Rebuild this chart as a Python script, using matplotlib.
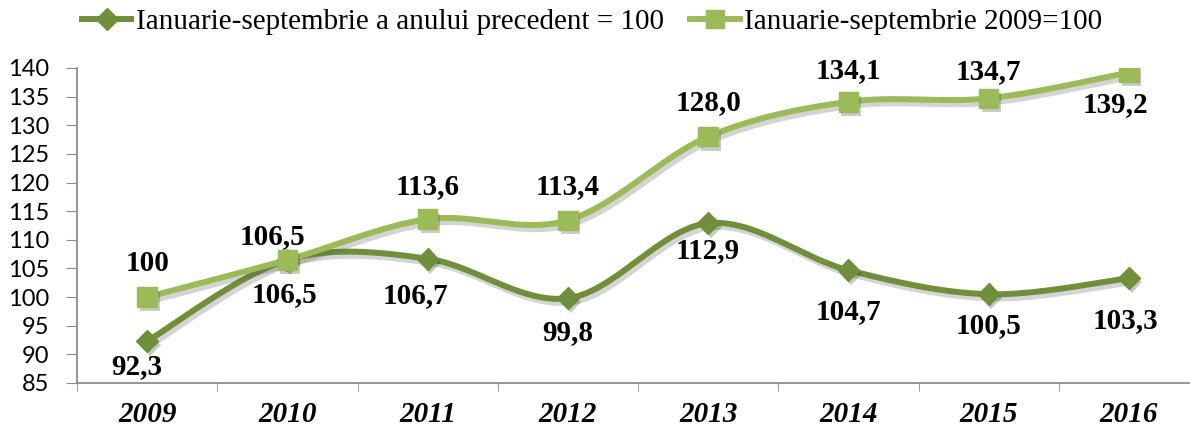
import numpy as np
import matplotlib
matplotlib.use("Agg")
import matplotlib.pyplot as plt
import matplotlib.patheffects as pe
from matplotlib.lines import Line2D

years = ["2009", "2010", "2011", "2012", "2013", "2014", "2015", "2016"]
prev_year = [92.3, 106.5, 106.7, 99.8, 112.9, 104.7, 100.5, 103.3]
base_2009 = [100, 106.5, 113.6, 113.4, 128.0, 134.1, 134.7, 139.2]
prev_labels = ["92,3", "106,5", "106,7", "99,8", "112,9", "104,7", "100,5", "103,3"]
base_labels = ["100", "106,5", "113,6", "113,4", "128,0", "134,1", "134,7", "139,2"]
name_prev = "Ianuarie-septembrie a anului precedent = 100"
name_base = "Ianuarie-septembrie 2009=100"

# label offsets in pixels (dx, dy), dy positive = up
prev_offsets = [(-10, -25), (-3, -35), (-12, -37), (0, -34), (0, -27), (0, -41), (0, -31), (-3, -42)]
base_offsets = [(0, 34), (-15, 23), (0, 33), (0, 34), (0, 34), (0, 31), (0, 27), (-13, -32)]

dark = "#6F8F3A"
light = "#9BBB59"
serif = "Liberation Serif"
PX = 0.72  # points per pixel at dpi 100


def smooth(xs, ys, n=40, t=0.5):
    """Cardinal (Catmull-Rom style) spline through the points, like Excel smoothed lines."""
    xs = np.asarray(xs, float)
    ys = np.asarray(ys, float)
    P = np.column_stack([xs, ys])
    P = np.vstack([P[0], P, P[-1]])
    out = []
    for i in range(1, len(P) - 2):
        p0, p1, p2, p3 = P[i - 1], P[i], P[i + 1], P[i + 2]
        m1 = (p2 - p0) * t
        m2 = (p3 - p1) * t
        s = np.linspace(0, 1, n)[:, None]
        h00 = 2 * s**3 - 3 * s**2 + 1
        h10 = s**3 - 2 * s**2 + s
        h01 = -2 * s**3 + 3 * s**2
        h11 = s**3 - s**2
        seg = h00 * p1 + h10 * m1 + h01 * p2 + h11 * m2
        out.append(seg if i == 1 else seg[1:])
    out = np.vstack(out)
    return out[:, 0], out[:, 1]


fig = plt.figure(figsize=(11.9, 4.28), dpi=100)
left, right, top, bottom = 77, 1199, 68, 383
ax = fig.add_axes([left / 1190, 1 - bottom / 428, (right - left) / 1190, (bottom - top) / 428])

x = np.arange(len(years))
shadow = [pe.SimpleLineShadow(offset=(2, -3), alpha=0.25, shadow_color="#555555"), pe.Normal()]

for vals, col, mk, ms in [(prev_year, dark, "D", 11), (base_2009, light, "s", 14)]:
    sx, sy = smooth(x, vals)
    ax.plot(sx, sy, color=col, lw=4.3, solid_capstyle="round", path_effects=shadow, zorder=3)
    ax.plot(x, vals, linestyle="none", marker=mk, ms=ms, color=col, mec=col, zorder=4,
            path_effects=[pe.SimplePatchShadow(offset=(2, -3), alpha=0.25), pe.Normal()])

lab_kw = dict(fontsize=21, fontweight="bold", family=serif, ha="center", va="center", zorder=5)
for i, (v, s) in enumerate(zip(prev_year, prev_labels)):
    dx, dy = prev_offsets[i]
    ax.annotate(s, (i, v), xytext=(dx * PX, dy * PX), textcoords="offset points", **lab_kw)
for i, (v, s) in enumerate(zip(base_2009, base_labels)):
    dx, dy = base_offsets[i]
    ax.annotate(s, (i, v), xytext=(dx * PX, dy * PX), textcoords="offset points", **lab_kw)

ax.set_ylim(85, 140)
ax.set_yticks(np.arange(85, 141, 5))
ax.set_xlim(-0.5, len(years) - 0.5)
ax.set_xticks(x)
ax.set_xticklabels(years, fontsize=21, fontweight="bold", style="italic", family=serif)
ax.set_xticks(np.arange(-0.5, len(years), 1), minor=True)
ax.tick_params(axis="x", which="major", length=0, pad=13)
ax.tick_params(axis="x", which="minor", length=6, color="#8C8C8C", direction="out")
ax.tick_params(axis="y", length=8, color="#8C8C8C", labelsize=17, pad=12)
for lbl in ax.get_yticklabels():
    lbl.set_family("Lato")

for sp in ["top", "right"]:
    ax.spines[sp].set_visible(False)
for sp in ["left", "bottom"]:
    ax.spines[sp].set_color("#8C8C8C")
    ax.spines[sp].set_linewidth(1.3)

handles = [Line2D([], [], color=dark, lw=4.3, marker="D", ms=11),
           Line2D([], [], color=light, lw=4.3, marker="s", ms=13)]
fig.legend(handles, [name_prev, name_base], loc="center", bbox_to_anchor=(592 / 1190, 1 - 22 / 428),
           ncol=2, frameon=False, prop={"family": serif, "size": 21},
           handlelength=1.7, handletextpad=0.15, columnspacing=0.9)

fig.savefig("out.png", dpi=100)
